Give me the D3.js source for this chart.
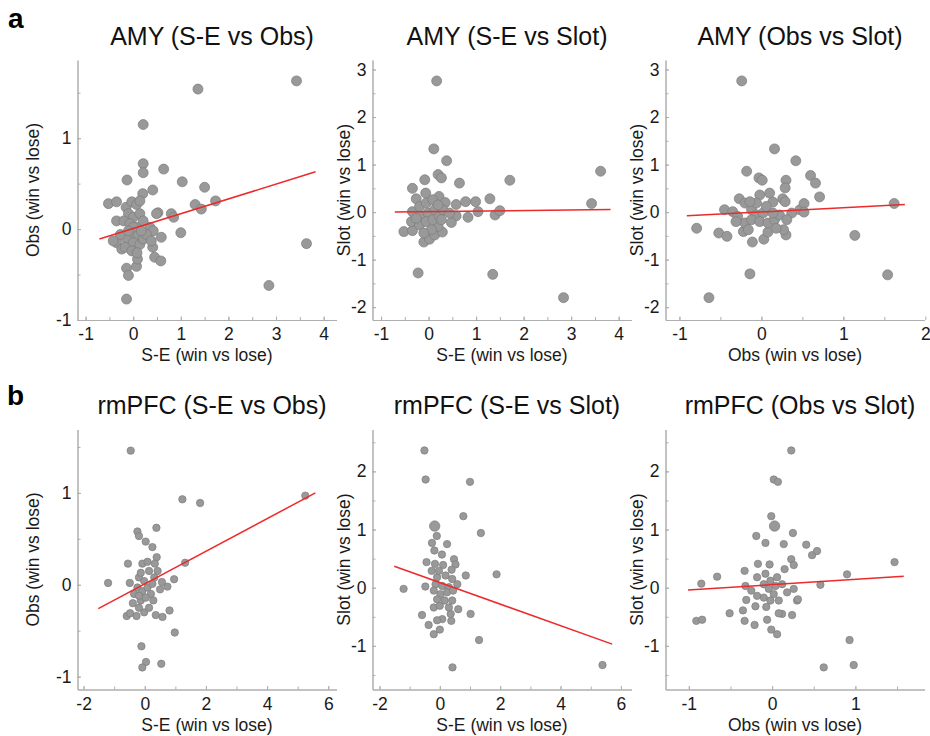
<!DOCTYPE html>
<html>
<head>
<meta charset="utf-8">
<script src="https://cdn.jsdelivr.net/npm/d3@7"></script>
<style>
  body { margin: 0; background: #fff; }
  text { font-family: "Liberation Sans", Arial, sans-serif; }
</style>
</head>
<body>
<div id="chart"></div>
<script>
// values, [x, y]
var amySeObs = [[1.36,1.54],[3.43,1.63],[0.21,1.15],[0.21,0.72],[0.21,0.62],[0.64,0.66],[-0.13,0.54],[1.03,0.52],[0.41,0.43],[1.5,0.46],
  [0.2,0.39],[-0.52,0.28],[-0.35,0.30],[1.30,0.27],[1.43,0.22],[1.73,0.31],[0.80,0.17],[0.85,0.13],[0.52,0.18],[-0.35,0.09],[1.0,-0.04],
  [0.59,-0.09],[3.64,-0.16],[2.85,-0.62],[-0.14,-0.43],[-0.10,-0.51],[-0.14,-0.77],[0.45,-0.31],[0.58,-0.35],[0.07,-0.41],[0.09,-0.33],
  [-0.35,-0.15],[-0.24,-0.22],[0.41,-0.20],[0.35,0.02],[0.42,-0.02],[-0.15,0.24],[-0.03,0.30],[0.07,0.27],[0.14,0.31],[-0.1,0.17],
  [0,0.13],[0.14,0.17],[-0.2,0.09],[-0.07,0.06],[0.07,0.02],[0.21,0.09],[-0.03,-0.06],[0.1,-0.06],[-0.14,-0.11],[0,-0.15],[0.14,-0.17],
  [-0.17,-0.2],[-0.03,-0.24],[0.21,-0.11],[0.28,-0.06],[-0.27,-0.06],[-0.42,-0.13],[0,0.02],[0.49,0.17],[0.38,-0.13],[0.08,-0.26],
  [-0.1,-0.02],[0.17,-0.02]];
var amySeSlot = [[0.17,2.76],[0.11,1.33],[0.38,1.08],[0.2,0.79],[0.27,0.72],[-0.08,0.68],[0.65,0.61],[1.71,0.67],[3.62,0.86],[3.43,0.18],
  [-0.34,0.5],[-0.26,0.28],[-0.06,0.4],[0.22,0.33],[0.35,0.2],[0.58,0.16],[0.78,0.22],[0.99,0.22],[1.29,0.28],[1.04,0.01],[0.83,-0.11],
  [1.4,-0.06],[1.5,0.03],[0.58,-0.08],[0.48,-0.22],[-0.52,-0.41],[-0.34,-0.39],[-0.36,-0.2],[-0.34,0.01],[-0.1,-0.63],[0.02,-0.57],
  [0.13,-0.48],[0.29,-0.42],[0.2,-0.3],[-0.22,-1.28],[1.35,-1.31],[2.84,-1.8],[-0.19,0.12],[-0.05,0.19],[0.09,0.26],[-0.15,-0.09],
  [-0.01,-0.02],[0.13,0.05],[-0.19,-0.27],[-0.05,-0.2],[0.09,-0.16],[0.23,-0.09],[0.3,0.05],[0.44,-0.02],[0.06,-0.37],[-0.1,-0.44],
  [-0.26,-0.13],[0.2,0.15],[0.27,-0.16]];
var amyObsSlot = [[-0.24,2.76],[0.16,1.33],[0.42,1.08],[-0.18,0.86],[-0.03,0.72],[0.01,0.67],[0.6,0.77],[0.66,0.61],[0.71,0.32],[0.3,0.67],
  [0.29,0.51],[1.62,0.18],[-0.79,-0.34],[-0.52,-0.44],[-0.42,-0.51],[-0.64,-1.8],[-0.14,-1.3],[1.14,-0.49],[1.54,-1.32],[-0.11,-0.63],
  [0.03,-0.57],[-0.45,0.05],[-0.27,0.28],[-0.2,0.19],[0.1,0.4],[-0.02,0.36],[0.26,0.28],[0.14,0.21],[0.29,0.22],[0.47,0.05],[0.52,0.18],
  [0.52,0.0],[0.37,-0.02],[0.3,-0.48],[0.27,-0.37],[0.08,-0.42],[-0.22,-0.41],[-0.2,-0.23],[-0.35,0.01],[-0.29,-0.09],[-0.12,0.05],
  [-0.06,-0.06],[0.02,-0.02],[0.06,0.12],[-0.06,0.19],[-0.12,-0.16],[-0.02,-0.2],[0.08,-0.23],[0.16,-0.16],[0.22,-0.06],[0.14,-0.02],
  [-0.14,0.22],[0.18,-0.34],[-0.31,-0.2],[0.31,-0.16],[-0.16,-0.37]];
var pfcSeObs = [[-0.46,1.46],[1.23,0.93],[1.81,0.89],[5.25,0.97],[0.38,0.62],[-0.24,0.58],[-0.19,0.53],[0.03,0.47],[0.25,0.41],[-0.55,0.23],
  [1.32,0.24],[-1.2,0.02],[-0.49,0.02],[0.96,0.06],[0.74,-0.02],[0.81,-0.28],[0.98,-0.52],[-0.59,-0.34],[-0.48,-0.31],[-0.27,-0.34],
  [-0.02,-0.3],[0.36,-0.33],[0.58,-0.35],[-0.11,-0.67],[0.04,-0.84],[-0.08,-0.9],[0.54,-0.86],[-0.39,-0.2],[-0.13,-0.17],[-0.19,-0.25],
  [0.14,-0.25],[0.28,-0.17],[0.5,-0.05],[0.56,0.03],[0.39,0.3],[0.33,0.23],[0.42,0.15],[0.14,0.15],[-0.08,0.23],[0.09,0.25],[-0.19,0.08],
  [-0.02,0.04],[-0.24,-0.03],[-0.08,-0.07],[0.09,-0.03],[0.25,0.01],[-0.13,0.13],[-0.35,-0.1],[0.2,-0.1],[0.31,0.08],[0.03,-0.14],
  [-0.19,-0.12]];
var pfcSeSlot = [[-0.51,2.36],[-0.47,1.86],[1.0,1.82],[0.78,1.23],[1.36,0.94],[-0.1,0.89],[-0.26,0.77],[0.24,0.75],[-0.18,0.64],[0.07,0.57],
  [-0.44,0.44],[-0.16,0.41],[0.11,0.39],[0.47,0.49],[0.52,0.40],[0.39,0.31],[-0.27,0.29],[0.86,0.21],[1.88,0.23],[-1.2,-0.02],[-0.48,0.02],
  [0.58,0.06],[-0.59,-0.47],[-0.37,-0.64],[-0.2,-0.8],[0,-0.72],[1.02,-0.45],[1.3,-0.9],[0.42,-1.37],[5.39,-1.33],[0.61,-0.37],[0.38,-0.57],
  [0.08,-0.54],[-0.09,-0.56],[-0.2,-0.34],[0,-0.31],[0.36,-0.45],[-0.09,0.18],[0.19,0.21],[0.41,0.15],[-0.14,0.06],[0.08,0.03],[0.3,0.01],
  [-0.2,-0.05],[0.02,-0.11],[0.24,-0.08],[0.44,-0.05],[-0.09,-0.2],[0.16,-0.22],[0.41,-0.22],[0.3,-0.34],[-0.03,0.29]];
var pfcObsSlot = [[0.23,2.36],[0.02,1.86],[0.07,1.82],[-0.01,1.23],[0.25,0.94],[-0.19,0.89],[-0.08,0.77],[0.14,0.75],[0.41,0.74],[0.48,0.56],
  [0.54,0.63],[0.23,0.49],[0.26,0.39],[0.15,0.32],[-0.03,0.40],[-0.17,0.41],[-0.33,0.29],[1.47,0.44],[0.9,0.23],[0.58,0.05],[-0.85,0.07],
  [-0.66,0.19],[-0.91,-0.57],[-0.84,-0.55],[-0.51,-0.44],[-0.35,-0.39],[-0.33,-0.57],[-0.21,-0.64],[-0.06,-0.55],[-0.01,-0.72],[0.06,-0.8],
  [0.93,-0.9],[0.98,-1.33],[0.62,-1.37],[0.24,-0.47],[0.12,-0.45],[0.08,-0.44],[0.3,-0.22],[0.31,-0.2],[-0.31,-0.21],[-0.2,-0.32],
  [-0.07,-0.33],[-0.32,0.03],[-0.25,-0.05],[-0.18,0.18],[-0.08,0.24],[0.26,-0.02],[0.18,-0.08],[-0.1,0.06],[-0.02,0.12],[0.04,0.03],
  [-0.04,-0.02],[0.02,-0.11],[-0.1,-0.17],[-0.02,-0.22],[0.08,-0.22],[0.12,0.06],[-0.18,-0.14],[0.06,0.18]];
// the one bigger marker in the rmPFC slot panels
var pfcSeSlotBig = [[-0.17,1.06]];
var pfcObsSlotBig = [[0.03,1.06]];

// regression line end points, [x0, x1] and [y0, y1]
var fitX = [[-0.71,3.83],[-0.71,3.83],[-0.91,1.75],[-1.52,5.58],[-1.51,5.71],[-1.01,1.58]];
var fitY = [[-0.11,0.63],[0.0,0.056],[-0.077,0.16],[-0.26,1.0],[0.37,-0.97],[-0.04,0.195]];

var titles = ["AMY (S-E vs Obs)","AMY (S-E vs Slot)","AMY (Obs vs Slot)","rmPFC (S-E vs Obs)","rmPFC (S-E vs Slot)","rmPFC (Obs vs Slot)"];
var xLabels = ["S-E (win vs lose)","S-E (win vs lose)","Obs (win vs lose)","S-E (win vs lose)","S-E (win vs lose)","Obs (win vs lose)"];
var yLabels = ["Obs (win vs lose)","Slot (win vs lose)","Slot (win vs lose)","Obs (win vs lose)","Slot (win vs lose)","Slot (win vs lose)"];
var xTicks = [[-1,0,1,2,3,4],[-1,0,1,2,3,4],[-1,0,1,2],[-2,0,2,4,6],[-2,0,2,4,6],[-1,0,1]];
var yTicks = [[-1,0,1],[-2,-1,0,1,2,3],[-2,-1,0,1,2,3],[-1,0,1],[-1,0,1,2],[-1,0,1,2]];

var panels = [
  {data: amySeObs, big: [], xd: [-1.17,4.27], yd: [-1,1.86], xm: 0.5, ym: 0.5, r: 5},
  {data: amySeSlot, big: [], xd: [-1.18,4.27], yd: [-2.27,3.2], xm: 0.5, ym: 0.5, r: 5},
  {data: amyObsSlot, big: [], xd: [-1.17,1.99], yd: [-2.27,3.2], xm: 0.5, ym: 0.5, r: 5},
  {data: pfcSeObs, big: [], xd: [-2.2,6.27], yd: [-1.14,1.69], xm: 1, ym: 0.5, r: 3.7},
  {data: pfcSeSlot, big: pfcSeSlotBig, xd: [-2.23,6.35], yd: [-1.75,2.72], xm: 1, ym: 0.5, r: 3.7},
  {data: pfcObsSlot, big: pfcObsSlotBig, xd: [-1.28,1.83], yd: [-1.75,2.72], xm: 0.5, ym: 0.5, r: 3.7}
];

var W = 930, H = 736;
var lefts = [77.5, 372.5, 665.5];
var tops = [60, 429.5];
var pw = 259, ph = 260;
var yLabOff = [44.5, 28.5, 28.5];
var axisCol = "#aeaeae";

var svg = d3.select("#chart").append("svg").attr("width", W).attr("height", H);

function minorTicks(d, step) {
  var out = [];
  var s = Math.ceil(d[0] / step) * step;
  for (var v = s; v <= d[1] + 1e-9; v += step) out.push(Math.round(v * 100) / 100);
  return out;
}

panels.forEach(function(p, i) {
  var col = i % 3, row = Math.floor(i / 3);
  var g = svg.append("g").attr("transform", "translate(" + lefts[col] + "," + tops[row] + ")");
  var x = d3.scaleLinear().domain(p.xd).range([0, pw]);
  var y = d3.scaleLinear().domain(p.yd).range([ph, 0]);

  // minor ticks, MATLAB style pointing inwards
  g.append("g").attr("class", "minor").attr("transform", "translate(0," + ph + ")")
    .call(d3.axisBottom(x).tickValues(minorTicks(p.xd, p.xm)).tickSize(-3).tickSizeOuter(0).tickFormat(""));
  g.append("g").attr("class", "minor")
    .call(d3.axisLeft(y).tickValues(minorTicks(p.yd, p.ym)).tickSize(-3).tickSizeOuter(0).tickFormat(""));

  var xa = g.append("g").attr("transform", "translate(0," + ph + ")")
    .call(d3.axisBottom(x).tickValues(xTicks[i]).tickSize(-3.5).tickSizeOuter(0).tickPadding(8).tickFormat(d3.format("d")));
  var ya = g.append("g")
    .call(d3.axisLeft(y).tickValues(yTicks[i]).tickSize(-3.5).tickSizeOuter(0).tickPadding(6).tickFormat(d3.format("d")));

  [xa, ya].forEach(function(a) {
    a.selectAll("path, line").attr("stroke", axisCol);
    a.selectAll("text").attr("fill", "#1a1a1a").style("font-size", "17.5px").text(function(d) { return d < 0 ? "-" + Math.abs(d) : d; });
  });
  g.selectAll(".minor path, .minor line").attr("stroke", axisCol);

  g.selectAll(".dot").data(p.data).enter().append("circle")
    .attr("class", "dot")
    .attr("cx", function(d) { return x(d[0]); })
    .attr("cy", function(d) { return y(d[1]); })
    .attr("r", p.r)
    .attr("fill", "#999999").attr("stroke", "#7c7c7c").attr("stroke-width", 0.7);
  g.selectAll(".big").data(p.big).enter().append("circle")
    .attr("class", "big")
    .attr("cx", function(d) { return x(d[0]); })
    .attr("cy", function(d) { return y(d[1]); })
    .attr("r", 5.2)
    .attr("fill", "#999999").attr("stroke", "#7c7c7c").attr("stroke-width", 0.7);

  var fit = d3.zip(fitX[i], fitY[i]);
  g.append("path").datum(fit)
    .attr("d", d3.line().x(function(d) { return x(d[0]); }).y(function(d) { return y(d[1]); }))
    .attr("stroke", "#ec2a2a").attr("stroke-width", 1.5).attr("fill", "none");

  g.append("text").attr("x", pw / 2 + 5).attr("y", -15.5).attr("text-anchor", "middle")
    .style("font-size", "25px").attr("fill", "#111").text(titles[i]);
  g.append("text").attr("x", pw / 2).attr("y", ph + 41).attr("text-anchor", "middle")
    .style("font-size", "17.5px").attr("fill", "#1a1a1a").text(xLabels[i]);
  g.append("text").attr("transform", "translate(" + (-yLabOff[col]) + "," + (ph / 2) + ") rotate(-90)")
    .attr("dy", "0.35em").attr("text-anchor", "middle")
    .style("font-size", "17.5px").attr("fill", "#1a1a1a").text(yLabels[i]);
});

svg.append("text").attr("x", 8).attr("y", 28).style("font-size", "28px").style("font-weight", "bold").text("a");
svg.append("text").attr("x", 7).attr("y", 405).style("font-size", "28px").style("font-weight", "bold").text("b");
</script>
</body>
</html>
